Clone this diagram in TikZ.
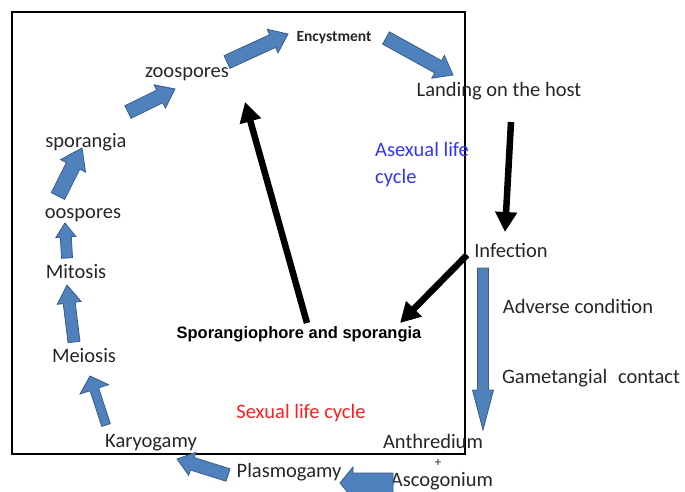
\documentclass[tikz,border=0pt]{standalone}
\usepackage{fontspec}
\setmainfont{Carlito}
\newfontfamily\arialfont{Liberation Sans}
\usetikzlibrary{calc,arrows.meta}
\definecolor{arrblue}{RGB}{79,129,189}
\definecolor{arredge}{RGB}{56,93,138}
\definecolor{txtgray}{RGB}{38,38,38}
\definecolor{asexblue}{RGB}{51,51,255}
\definecolor{sexred}{RGB}{255,30,30}

% tail, tip, half shaft, half head, head length
\newcommand{\blockarrow}[5]{%
  \coordinate (hb) at ($(#2)!#5!(#1)$);
  \filldraw[blockarr] ($(#1)!#3!90:(#2)$) -- ($(hb)!#3!90:(#2)$) -- ($(hb)!#4!90:(#2)$) -- (#2)
    -- ($(hb)!#4!-90:(#2)$) -- ($(hb)!#3!-90:(#2)$) -- ($(#1)!#3!-90:(#2)$) -- cycle;
}

\begin{document}
\begin{tikzpicture}[x=1pt, y=-1pt,
    lbl/.style={font=\fontsize{20.5}{24}\selectfont, text=txtgray, anchor=base, inner sep=0pt},
    blockarr/.style={fill=arrblue, draw=arredge, line width=0.8pt, line join=miter},
    bigarr/.style={line width=6.5pt, -{Triangle[length=20pt,width=21pt]}}]
        \path[use as bounding box, clip] (0,0) rectangle (685,492);

        \draw[line width=1.6pt] (12,12) rectangle (465,454);

        \node[lbl, font=\fontsize{15.5}{18}\selectfont\bfseries] (enc) at (334,42) {Encystment};
        \node[lbl] (zoo) at (187,78) {zoospores};
        \node[lbl] (land) at (499,97) {Landing on the host};
        \node[lbl] (spo) at (86,147) {sporangia};
        \node[lbl, text=asexblue, anchor=base west] (asex1) at (375,157) {Asexual life};
        \node[lbl, text=asexblue, anchor=base west] (asex2) at (375,183) {cycle};
        \node[lbl] (oos) at (83,218) {oospores};
        \node[lbl] (inf) at (511,257) {Infection};
        \node[lbl] (mit) at (76,278) {Mitosis};
        \node[lbl] (adv) at (578,313) {Adverse condition};
        \node[lbl, font=\arialfont\bfseries\fontsize{16.5}{20}\selectfont, text=black] (sph) at (299,338) {Sporangiophore and sporangia};
        \node[lbl] (mei) at (84,362) {Meiosis};
        \node[lbl] (gam) at (591,383) {Gametangial\hspace{0.3em} contact};
        \node[lbl, text=sexred] (sex) at (301,418) {Sexual life cycle};
        \node[lbl] (kar) at (151,447) {Karyogamy};
        \node[lbl] (ant) at (433,448) {Anthredium};
        \node[lbl, font=\fontsize{13}{15}\selectfont] (plus) at (438,466) {+};
        \node[lbl] (asc) at (442,486) {Ascogonium};
        \node[lbl] (pla) at (289,477) {Plasmogamy};

        \coordinate (KM1) at (106,425);
        \coordinate (KM2) at (90,376);
        \coordinate (MM1) at (74,342);
        \coordinate (MM2) at (67,285);
        \coordinate (MO1) at (67,258);
        \coordinate (MO2) at (65,223);
        \coordinate (OS1) at (58,196);
        \coordinate (OS2) at (82,148);
        \coordinate (SZ1) at (128,112);
        \coordinate (SZ2) at (175,89);
        \coordinate (ZE1) at (227,62);
        \coordinate (ZE2) at (288,34);
        \coordinate (EL1) at (386,38);
        \coordinate (EL2) at (453,75);
        \coordinate (IA1) at (483,268);
        \coordinate (IA2) at (483,430);
        \coordinate (AP1) at (393,483);
        \coordinate (AP2) at (340,483);
        \coordinate (PK1) at (228,475);
        \coordinate (PK2) at (177,459);

        \blockarrow{KM1}{KM2}{4.5pt}{15pt}{14pt}
        \blockarrow{MM1}{MM2}{6pt}{12pt}{18pt}
        \blockarrow{MO1}{MO2}{5.5pt}{10pt}{14pt}
        \blockarrow{OS1}{OS2}{7.5pt}{14pt}{20pt}
        \blockarrow{SZ1}{SZ2}{7pt}{13pt}{17pt}
        \blockarrow{ZE1}{ZE2}{7pt}{13pt}{17pt}
        \blockarrow{EL1}{EL2}{7pt}{13pt}{17pt}
        \blockarrow{IA1}{IA2}{5.5pt}{10.5pt}{40pt}
        \blockarrow{AP1}{AP2}{10pt}{16pt}{13pt}
        \blockarrow{PK1}{PK2}{6.5pt}{12pt}{16pt}

        \coordinate (LI1) at (511,122);
        \coordinate (LI2) at (505,232);
        \coordinate (IS1) at (467,255);
        \coordinate (IS2) at (400,323);
        \coordinate (SZ3) at (307,323);
        \coordinate (SZ4) at (245,102);

        \draw[bigarr] (LI1) -- (LI2);
        \draw[bigarr] (IS1) -- (IS2);
        \draw[bigarr] (SZ3) -- (SZ4);
    \end{tikzpicture}
\end{document}
